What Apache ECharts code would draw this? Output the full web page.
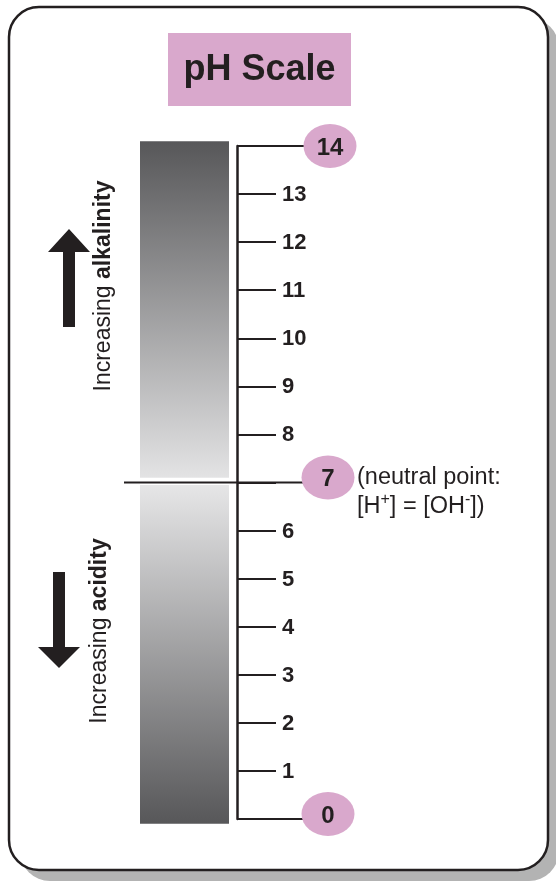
<!DOCTYPE html>
<html>
<head>
<meta charset="utf-8">
<script src="https://cdn.jsdelivr.net/npm/echarts@6/dist/echarts.min.js"></script>
<style>html,body{margin:0;padding:0;background:#fff;}#c{width:556px;height:885px;}</style>
</head>
<body>
<div id="c"></div>
<script>
// ---- data ----
const phTicks = [0,1,2,3,4,5,6,7,8,9,10,11,12,13,14];
const keyValues = [0, 7, 14];
const alkalineBand = [7.1, 14.1];
const acidicBand = [-0.1, 6.95];
const titleText = 'pH Scale';
const neutralNote = ['(neutral point:', '[H{sup|+}] = [OH{sup|-}])'];

const INK = '#231f20';
const PINK = '#d9a8cc';
const FONT = '"Liberation Sans", Arial, Helvetica, sans-serif';

const chart = echarts.init(document.getElementById('c'), null, {renderer: 'canvas'});

const bands = [
  {range: alkalineBand, top: '#575759', bottom: '#e3e3e4'},
  {range: acidicBand, top: '#e6e6e7', bottom: '#575759'}
];
const minorTicks = phTicks.filter(v => keyValues.indexOf(v) < 0);

chart.setOption({
  animation: false,
  backgroundColor: '#fff',
  grid: {left: 124, right: 156, top: 146, bottom: 66},
  xAxis: {type: 'value', min: -113, max: 163, show: false},
  yAxis: {
    type: 'value', min: 0, max: 14, interval: 1,
    axisLine: {show: true, onZero: true, lineStyle: {color: INK, width: 2.5}},
    axisTick: {show: true, inside: true, length: 39, lineStyle: {color: INK, width: 2}},
    splitLine: {show: false},
    axisLabel: {show: false}
  },
  graphic: [
    {type: 'rect', z: -10, shape: {x: 20, y: 18, width: 539, height: 863, r: 30}, style: {fill: '#b3b3b3'}},
    {type: 'rect', z: -9, shape: {x: 9, y: 7, width: 539, height: 863, r: 30}, style: {fill: '#fff', stroke: INK, lineWidth: 2.5}},
    {type: 'rect', z: 1, shape: {x: 168, y: 33, width: 183, height: 73}, style: {fill: PINK}},
    {type: 'text', z: 2, x: 259.5, y: 70, style: {text: titleText, fill: INK, font: 'bold 36px ' + FONT, textAlign: 'center', textVerticalAlign: 'middle'}},
    {type: 'polygon', z: 2, shape: {points: [[63,327],[63,252],[48,252],[69,229],[90,252],[75,252],[75,327]]}, style: {fill: INK}},
    {type: 'polygon', z: 2, shape: {points: [[53,572],[65,572],[65,647],[80,647],[59,668],[38,647],[53,647]]}, style: {fill: INK}},
    {type: 'text', z: 2, x: 104, y: 286, rotation: Math.PI / 2,
      style: {text: '{a|Increasing }{b|alkalinity}', textAlign: 'center', textVerticalAlign: 'middle',
        rich: {a: {fontSize: 23, fontFamily: FONT, fill: INK, color: INK}, b: {fontSize: 23, fontWeight: 'bold', fontFamily: FONT, fill: INK, color: INK}}}},
    {type: 'text', z: 2, x: 100, y: 631, rotation: Math.PI / 2,
      style: {text: '{a|Increasing }{b|acidity}', textAlign: 'center', textVerticalAlign: 'middle',
        rich: {a: {fontSize: 23, fontFamily: FONT, fill: INK, color: INK}, b: {fontSize: 23, fontWeight: 'bold', fontFamily: FONT, fill: INK, color: INK}}}},
    {type: 'text', z: 2, x: 357, y: 463,
      style: {text: neutralNote.join('\n'), textAlign: 'left', textVerticalAlign: 'top', lineHeight: 29,
        rich: {
          sup: {fontSize: 16, fontFamily: FONT, fill: INK, color: INK, verticalAlign: 'top', lineHeight: 29}
        },
        font: '23.5px ' + FONT, fill: INK}}
  ],
  series: [
    {
      type: 'custom', z: 1,
      data: bands.map((b, i) => [i, b.range[0], b.range[1]]),
      renderItem: function (params, api) {
        const i = api.value(0);
        const b = bands[i];
        const p0 = api.coord([-97, api.value(2)]);
        const p1 = api.coord([-8, api.value(1)]);
        return {
          type: 'rect',
          shape: {x: p0[0], y: p0[1], width: p1[0] - p0[0], height: p1[1] - p0[1]},
          style: {fill: new echarts.graphic.LinearGradient(0, 0, 0, 1, [
            {offset: 0, color: b.top}, {offset: 1, color: b.bottom}])}
        };
      }
    },
    {
      type: 'custom', z: 3,
      data: keyValues.map(v => [v]),
      renderItem: function (params, api) {
        const v = api.value(0);
        const a = api.coord([v === 7 ? -113 : 0, v]);
        const b = api.coord([75, v]);
        return {type: 'line', shape: {x1: a[0], y1: a[1], x2: b[0], y2: b[1]}, style: {stroke: INK, lineWidth: 2}};
      }
    },
    {
      type: 'scatter', z: 4,
      data: minorTicks.map(v => [45, v]),
      symbolSize: 1,
      itemStyle: {color: 'rgba(255,255,255,0)'},
      label: {show: true, position: 'inside', align: 'left', verticalAlign: 'middle',
        formatter: p => String(p.value[1]), color: INK, opacity: 1,
        textBorderWidth: 0, textBorderColor: 'transparent', offset: [0, 1],
        fontSize: 22, fontWeight: 'bold', fontFamily: FONT}
    },
    {
      type: 'scatter', z: 5,
      data: keyValues.map(v => ({value: [92, v], symbolOffset: v === 14 ? [1, 0] : [-1, -5]})),
      symbol: 'circle', symbolSize: [53, 44],
      itemStyle: {color: PINK, opacity: 1},
      label: {show: true, position: 'inside', formatter: p => String(p.value[1]), color: INK,
        textBorderWidth: 0,
        fontSize: 24, fontWeight: 'bold', fontFamily: FONT, offset: [0, 2]}
    }
  ]
});
</script>
</body>
</html>
